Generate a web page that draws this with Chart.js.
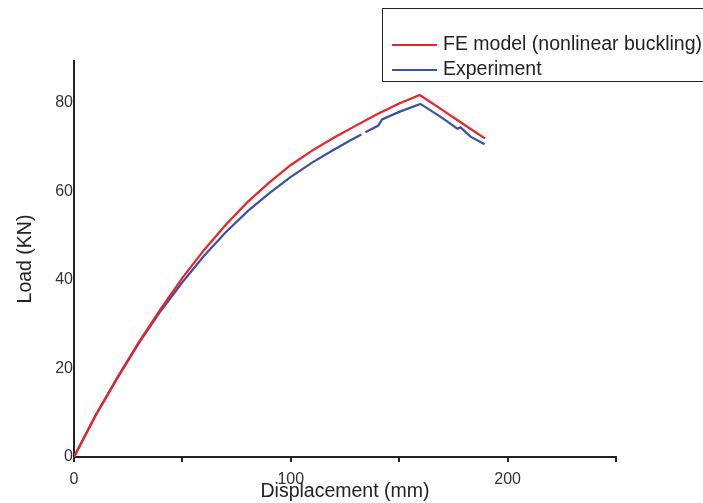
<!DOCTYPE html>
<html>
<head>
<meta charset="utf-8">
<title>Load vs displacement</title>
<script src="https://cdn.jsdelivr.net/npm/chart.js@4.4.1/dist/chart.umd.min.js"></script>
<style>
  html, body { margin: 0; padding: 0; background: #fff; }
  #wrap { width: 703px; height: 503px; position: relative; }
</style>
</head>
<body>
<div id="wrap"><canvas id="chart"></canvas></div>
<script>
// Values
const SERIES_LABELS = ['FE model (nonlinear buckling)', 'Experiment'];

const FE_DISP = [0, 10, 20, 30, 40, 50, 60, 70, 80, 90, 100, 110, 120, 130, 140, 150, 159.5, 170, 180, 189.5];
const FE_LOAD = [0, 9.5, 18, 26, 33.5, 40.5, 46.8, 52.5, 57.6, 62, 66, 69.3, 72.2, 74.9, 77.5, 79.9, 81.8, 78.4, 75.1, 72];

// null marks the small break in the measured curve
const EXP_DISP = [0, 10, 20, 30, 40, 50, 60, 70, 80, 90, 100, 110, 120, 128, 132.5, 133.5, 134.4, 140.4, 142.1, 150, 159.8, 170, 176.8, 178.3, 182.9, 189.4];
const EXP_LOAD = [0, 9.4, 17.8, 25.8, 33, 39.5, 45.5, 50.8, 55.5, 59.6, 63.3, 66.6, 69.5, 71.7, 72.9, null, 73.4, 74.9, 76.3, 78.0, 79.8, 76.6, 74.2, 74.5, 72.4, 70.7];

const X_TICKS = [0, 50, 100, 150, 200, 250];
const X_LABELS = ['0', '', '100', '', '200', ''];
const Y_TICKS = [0, 20, 40, 60, 80];

const COLORS = ['#ec2227', '#3a52a2'];
const FONT = 'Liberation Sans, Arial, sans-serif';

function toPoints(xs, ys) {
  return xs.map((x, i) => ({ x: x, y: ys[i] }));
}

// Boxed legend in the top right corner, clipped by the page edge like the original
const boxLegend = {
  id: 'boxLegend',
  afterDraw(chart) {
    const ctx = chart.ctx;
    ctx.save();
    ctx.strokeStyle = '#222';
    ctx.lineWidth = 1;
    ctx.strokeRect(382.5, 8.5, 340, 73);
    ctx.font = '19.5px ' + FONT;
    ctx.textBaseline = 'middle';
    chart.data.datasets.forEach((ds, i) => {
      const y = 45 + i * 25;
      ctx.strokeStyle = ds.borderColor;
      ctx.lineWidth = 2;
      ctx.beginPath();
      ctx.moveTo(392, y);
      ctx.lineTo(437, y);
      ctx.stroke();
      ctx.fillStyle = '#222';
      ctx.fillText(ds.label, 443, y);
    });
    ctx.restore();
  }
};

new Chart(document.getElementById('chart'), {
  type: 'line',
  data: {
    datasets: [
      {
        label: SERIES_LABELS[0],
        data: toPoints(FE_DISP, FE_LOAD),
        borderColor: COLORS[0],
        borderWidth: 2.2,
        pointRadius: 0,
        tension: 0,
        spanGaps: false
      },
      {
        label: SERIES_LABELS[1],
        data: toPoints(EXP_DISP, EXP_LOAD),
        borderColor: COLORS[1],
        borderWidth: 2.2,
        pointRadius: 0,
        tension: 0,
        spanGaps: false
      }
    ]
  },
  options: {
    responsive: true,
    maintainAspectRatio: false,
    animation: false,
    layout: { padding: { top: 61, right: 87, left: 0, bottom: 0 } },
    plugins: {
      legend: { display: false },
      tooltip: { enabled: false }
    },
    scales: {
      x: {
        type: 'linear',
        min: 0,
        max: 250,
        afterBuildTicks: scale => { scale.ticks = X_TICKS.map(v => ({ value: v })); },
        afterFit: scale => { scale.height = 46; },
        ticks: {
          color: '#333',
          font: { family: FONT, size: 16 },
          padding: 8,
          maxRotation: 0,
          autoSkip: false,
          callback: (v) => X_LABELS[X_TICKS.indexOf(v)]
        },
        grid: { drawOnChartArea: false, drawTicks: true, tickLength: 5, color: '#222', lineWidth: 2 },
        border: { display: true, color: '#222', width: 2 },
        title: {
          display: true,
          text: 'Displacement (mm)',
          color: '#222',
          font: { family: FONT, size: 19.5 },
          padding: { top: -12, bottom: 0 }
        }
      },
      y: {
        type: 'linear',
        min: 0,
        max: 89.5,
        afterBuildTicks: scale => { scale.ticks = Y_TICKS.map(v => ({ value: v })); },
        afterFit: scale => { scale.width = 74; },
        ticks: {
          color: '#333',
          font: { family: FONT, size: 16 },
          padding: 1
        },
        grid: { drawOnChartArea: false, drawTicks: false },
        border: { display: true, color: '#222', width: 2 },
        title: {
          display: true,
          text: 'Load (KN)',
          color: '#222',
          font: { family: FONT, size: 19.5 },
          padding: { top: 14, bottom: 0 }
        }
      }
    }
  },
  plugins: [boxLegend]
});
</script>
</body>
</html>
